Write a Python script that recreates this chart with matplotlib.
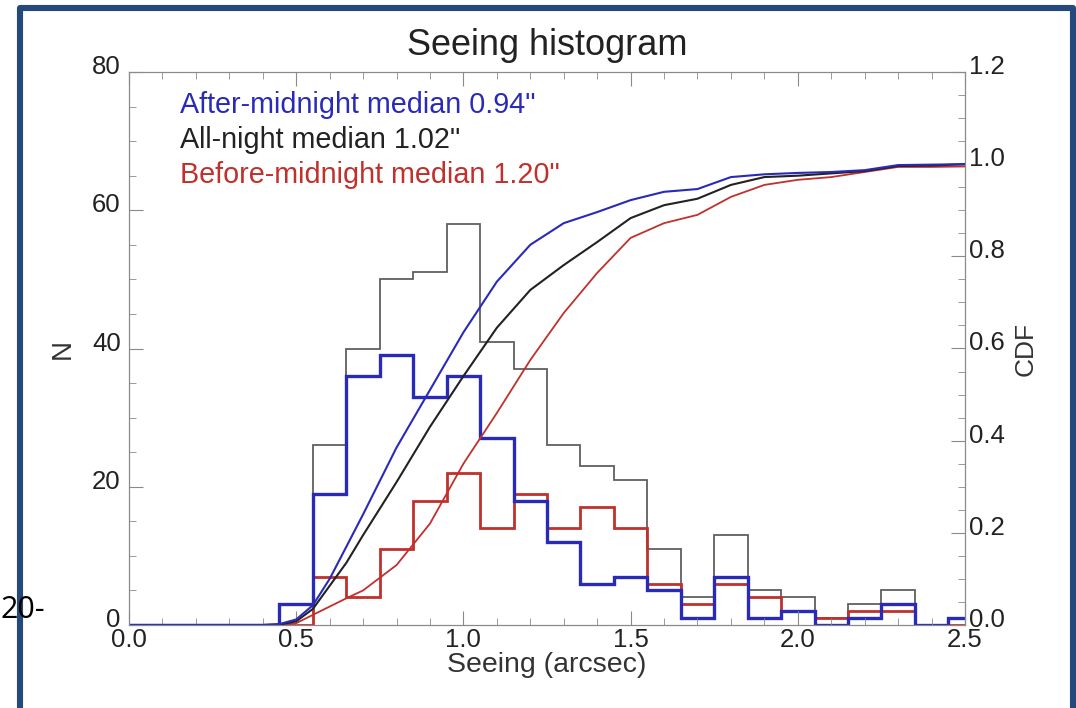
import numpy as np
import matplotlib
matplotlib.use("Agg")
import matplotlib.pyplot as plt
from matplotlib.lines import Line2D
from matplotlib.ticker import MultipleLocator
from matplotlib.transforms import ScaledTranslation

plt.rcParams['font.family'] = ['Liberation Sans', 'DejaVu Sans']

# histogram bins (centres, arcsec) and counts
bin_centers = [0.0, 0.1, 0.2, 0.3, 0.4, 0.5, 0.6, 0.7, 0.8, 0.9, 1.0, 1.1, 1.2,
               1.3, 1.4, 1.5, 1.6, 1.7, 1.8, 1.9, 2.0, 2.1, 2.2, 2.3, 2.4, 2.5]
n_all = [0, 0, 0, 0, 0, 3, 26, 40, 50, 51, 58, 41, 37,
         26, 23, 21, 11, 4, 13, 5, 4, 1, 3, 5, 0, 1]
n_after = [0, 0, 0, 0, 0, 3, 19, 36, 39, 33, 36, 27, 18,
           12, 6, 7, 5, 1, 7, 1, 2, 0, 1, 3, 0, 1]
n_before = [0, 0, 0, 0, 0, 0, 7, 4, 11, 18, 22, 14, 19,
            14, 17, 14, 6, 3, 6, 4, 2, 1, 2, 2, 0, 0]

# cumulative distributions
cdf_x = [0.0, 0.40, 0.45, 0.50, 0.55, 0.60, 0.65, 0.70, 0.80, 0.90, 1.00, 1.10, 1.20,
         1.30, 1.40, 1.50, 1.60, 1.70, 1.80, 1.90, 2.00, 2.10, 2.20, 2.30, 2.40, 2.50]
cdf_after = [0, 0, 0.002, 0.012, 0.043, 0.10, 0.17, 0.24, 0.385, 0.51, 0.635, 0.745, 0.825,
             0.872, 0.896, 0.922, 0.94, 0.946, 0.972, 0.978, 0.981, 0.983, 0.987, 0.998, 0.999, 1.0]
cdf_all = [0, 0, 0.001, 0.008, 0.035, 0.085, 0.135, 0.195, 0.31, 0.43, 0.54, 0.645, 0.727,
           0.781, 0.831, 0.883, 0.911, 0.925, 0.955, 0.972, 0.975, 0.98, 0.985, 0.996, 0.997, 1.0]
cdf_before = [0, 0, 0, 0.004, 0.022, 0.04, 0.058, 0.075, 0.13, 0.22, 0.35, 0.46, 0.575,
              0.677, 0.764, 0.84, 0.872, 0.89, 0.929, 0.955, 0.966, 0.972, 0.983, 0.994, 0.994, 0.995]

labels = ['After-midnight median 0.94"', 'All-night median 1.02"', 'Before-midnight median 1.20"']

c_blue = '#2a2ab8'
c_black = '#222222'
c_red = '#c0302c'
c_gray = '#606060'
c_axis = '#8a8a8a'

fig = plt.figure(figsize=(10.76, 7.08), dpi=100)
ax = fig.add_axes([129/1076, 1-625/708, 836/1076, 553/708])

centers = np.array(bin_centers)
edges = np.append(centers - 0.05, centers[-1] + 0.05)
ax.stairs(n_all, edges, color=c_gray, lw=1.3, baseline=None)
ax.stairs(n_before, edges, color=c_red, lw=2.0, baseline=None)
ax.stairs(n_after, edges, color=c_blue, lw=2.4, baseline=None)

ax.set_xlim(0, 2.5)
ax.set_ylim(0, 80)
ax.xaxis.set_major_locator(MultipleLocator(0.5))
ax.xaxis.set_minor_locator(MultipleLocator(0.1))
ax.yaxis.set_major_locator(MultipleLocator(20))
ax.yaxis.set_minor_locator(MultipleLocator(5))
ax.xaxis.set_major_formatter(lambda v, p: f"{v:.1f}")
ax.tick_params(which='both', direction='in', top=True, right=False, color=c_axis,
               labelsize=18.5, labelcolor='#222222')
ax.tick_params(which='major', length=10)
ax.tick_params(which='minor', length=5)
ax.tick_params(axis='x', pad=2)
ax.tick_params(axis='y', pad=6)
for s in ax.spines.values():
    s.set_color(c_axis)
ax.set_xlabel('Seeing (arcsec)', fontsize=20.5, color='#333333', labelpad=0)
ax.set_ylabel('N', fontsize=20, color='#333333', labelpad=12)
ax.set_title('Seeing histogram', fontsize=26, color='#222222', pad=12)

ax2 = ax.twinx()
ax2.plot(cdf_x, cdf_before, color=c_red, lw=1.3)
ax2.plot(cdf_x, cdf_all, color=c_black, lw=1.5)
ax2.plot(cdf_x, cdf_after, color=c_blue, lw=1.5)
ax2.set_ylim(0, 1.2)
ax2.yaxis.set_major_locator(MultipleLocator(0.2))
ax2.yaxis.set_minor_locator(MultipleLocator(0.05))
ax2.yaxis.set_major_formatter(lambda v, p: f"{v:.1f}")
ax2.tick_params(which='both', direction='in', color=c_axis, labelsize=18.5, labelcolor='#222222')
ax2.tick_params(which='major', length=10, pad=3)
ax2.tick_params(which='minor', length=5)
for s in ax2.spines.values():
    s.set_color(c_axis)
ax2.set_ylabel('CDF', fontsize=19, color='#333333', labelpad=6)

# y tick labels sit a little above their ticks, as in the original
shift = ScaledTranslation(0, 7.5/100, fig.dpi_scale_trans)
for lab in ax.get_yticklabels() + ax2.get_yticklabels():
    lab.set_transform(lab.get_transform() + shift)
fig.canvas.draw()
zero_lab = ax.yaxis.get_major_ticks()[0].label1
zero_lab.set_transform(zero_lab.get_transform() + ScaledTranslation(0, 4/100, fig.dpi_scale_trans))

for txt, col, yy in zip(labels, [c_blue, c_black, c_red], [0.940, 0.877, 0.814]):
    ax.text(0.061, yy, txt, transform=ax.transAxes, fontsize=20.7, color=col, va='center')

# slide fragment and frame
fig.text(0.0, 1 - 610/708, '20-', fontsize=22, color='black', va='center', ha='left',
         family='Open Sans')
frame = Line2D([20/1076, 20/1076, 1073/1076, 1073/1076],
               [0, 1 - 8/708, 1 - 8/708, 0], transform=fig.transFigure,
               color='#24497c', lw=4.4, solid_joinstyle='round')
fig.add_artist(frame)

fig.savefig('out.png', dpi=100)
